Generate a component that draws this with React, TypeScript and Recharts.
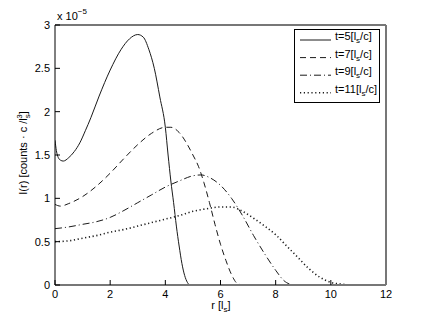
import { LineChart, Line, XAxis, YAxis } from 'recharts';

// r in l_s, intensity in units of 1e-5
const xTicks = [0, 2, 4, 6, 8, 10, 12];
const yTicks = [0, 0.5, 1, 1.5, 2, 2.5, 3];

const t5R = [0, 0.05, 0.12, 0.2, 0.3, 0.5, 0.7, 0.9, 1.1, 1.3, 1.6, 2.0, 2.4, 2.7, 3.0, 3.2, 3.4, 3.6, 3.8, 4.0, 4.1, 4.2, 4.3, 4.4, 4.5, 4.6, 4.7, 4.8, 4.9, 5.0];
const t5I = [1.67, 1.55, 1.47, 1.44, 1.43, 1.47, 1.54, 1.64, 1.78, 1.93, 2.18, 2.48, 2.72, 2.84, 2.89, 2.86, 2.72, 2.5, 2.17, 1.82, 1.5, 1.2, 0.95, 0.68, 0.45, 0.25, 0.11, 0.03, 0, 0];

const t7R = [0, 0.2, 0.5, 1.0, 1.5, 2.0, 2.5, 3.0, 3.5, 4.0, 4.2, 4.5, 4.8, 5.0, 5.2, 5.4, 5.6, 5.8, 6.0, 6.2, 6.4, 6.6, 6.8];
const t7I = [0.93, 0.91, 0.94, 1.02, 1.14, 1.29, 1.46, 1.62, 1.75, 1.82, 1.82, 1.76, 1.62, 1.5, 1.37, 1.18, 0.95, 0.7, 0.47, 0.28, 0.12, 0.02, 0];

const t9R = [0, 0.5, 1, 1.5, 2, 2.5, 3, 3.5, 4, 4.5, 5, 5.3, 5.6, 6, 6.4, 6.8, 7.2, 7.6, 8, 8.3, 8.6];
const t9I = [0.65, 0.67, 0.7, 0.73, 0.78, 0.86, 0.95, 1.04, 1.13, 1.2, 1.26, 1.27, 1.24, 1.15, 1.0, 0.8, 0.57, 0.36, 0.17, 0.05, 0];

const t11R = [0, 0.5, 1, 1.5, 2, 2.5, 3, 3.5, 4, 4.5, 5, 5.5, 6, 6.4, 6.8, 7.2, 7.6, 8, 8.4, 8.8, 9.2, 9.6, 10, 10.4, 10.8, 12];
const t11I = [0.5, 0.51, 0.54, 0.57, 0.61, 0.64, 0.68, 0.72, 0.76, 0.8, 0.85, 0.88, 0.9, 0.9, 0.85, 0.77, 0.68, 0.58, 0.45, 0.32, 0.19, 0.09, 0.03, 0.01, 0, 0];

const seriesTimes = ['5', '7', '9', '11'];
const seriesDash = [undefined, '6 4', '7 3 1 3', '1.2 2.6'];
const seriesWidth = [1, 1, 1, 1.6];

const toPoints = (rs: number[], vs: number[]) => rs.map((r, i) => ({ r, v: vs[i] }));
const series = [toPoints(t5R, t5I), toPoints(t7R, t7I), toPoints(t9R, t9I), toPoints(t11R, t11I)];

const FONT = '"Liberation Sans", Arial, sans-serif';
const tickStyle = { fontSize: 11, fill: '#000', fontFamily: FONT };

export default function App() {
  return (
    <div style={{ position: 'fixed', left: 0, top: 0, width: 426, height: 321, background: '#fff', fontFamily: FONT }}>
      <LineChart width={426} height={321} margin={{ top: 0, right: 0, bottom: 0, left: 0 }}>
        <XAxis
          xAxisId="b"
          type="number"
          dataKey="r"
          domain={[0, 12]}
          ticks={xTicks}
          height={36}
          tickSize={-5}
          tickMargin={10}
          tick={tickStyle}
          axisLine={{ stroke: '#777', strokeWidth: 2 }}
          tickLine={{ stroke: '#000' }}
          allowDataOverflow
        />
        <XAxis
          xAxisId="t"
          orientation="top"
          type="number"
          dataKey="r"
          domain={[0, 12]}
          ticks={xTicks}
          height={25}
          tickSize={-5}
          tickFormatter={() => ''}
          axisLine={{ stroke: '#777', strokeWidth: 2 }}
          tickLine={{ stroke: '#000' }}
        />
        <YAxis
          yAxisId="l"
          type="number"
          domain={[0, 3]}
          ticks={yTicks}
          width={55}
          tickSize={-5}
          tickMargin={10}
          tick={tickStyle}
          axisLine={{ stroke: '#000', strokeWidth: 1 }}
          tickLine={{ stroke: '#000' }}
          allowDataOverflow
        />
        <YAxis
          yAxisId="r"
          orientation="right"
          type="number"
          domain={[0, 3]}
          ticks={yTicks}
          width={40}
          tickSize={-5}
          tickFormatter={() => ''}
          axisLine={{ stroke: '#777', strokeWidth: 2 }}
          tickLine={{ stroke: '#000' }}
        />
        {series.map((pts, i) => (
          <Line
            key={i}
            xAxisId="b"
            yAxisId="l"
            data={pts}
            dataKey="v"
            type="monotone"
            stroke="#1a1a1a"
            strokeWidth={seriesWidth[i]}
            strokeDasharray={seriesDash[i]}
            dot={false}
            activeDot={false}
            isAnimationActive={false}
          />
        ))}
      </LineChart>

      {/* labels and legend */}
      <svg width={426} height={321} style={{ position: 'absolute', left: 0, top: 0, pointerEvents: 'none' }} fontFamily={FONT}>
        <text x={57} y={20} fontSize={11}>
          x 10<tspan dy={-6} fontSize={8}>−5</tspan>
        </text>
        <text x={27} y={153} fontSize={11} textAnchor="middle" transform="rotate(-90, 27, 153)">
          I(r) [counts · c /l<tspan dy={3} fontSize={8}>s</tspan>
          <tspan dx={-4.5} dy={-8} fontSize={8}>3</tspan>
          <tspan dy={5}>]</tspan>
        </text>
        <text x={221} y={309} fontSize={11} textAnchor="middle">
          r [l<tspan dy={3} fontSize={8}>s</tspan>
          <tspan dy={-3}>]</tspan>
        </text>

        <rect x={294.5} y={29.5} width={85} height={73} fill="#fff" stroke="#000" strokeWidth={1} />
        {seriesTimes.map((t, i) => {
          const yb = 40 + i * 17.6;
          return (
            <g key={t}>
              <line x1={300} x2={331} y1={yb} y2={yb} stroke="#1a1a1a" strokeWidth={seriesWidth[i]} strokeDasharray={seriesDash[i]} />
              <text x={335} y={yb} fontSize={11}>
                t={t}[l<tspan dy={3} fontSize={8}>s</tspan>
                <tspan dy={-3}>/c]</tspan>
              </text>
            </g>
          );
        })}
      </svg>
    </div>
  );
}
